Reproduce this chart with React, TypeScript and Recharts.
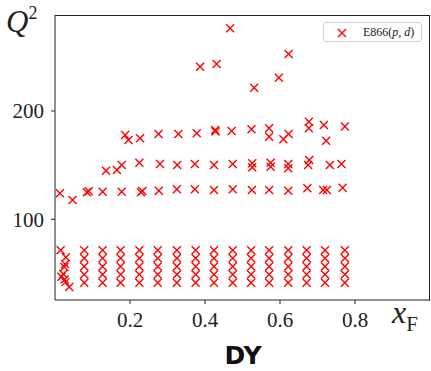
import { ScatterChart, Scatter, XAxis, YAxis } from 'recharts'

const xTicks = [0.2, 0.4, 0.6, 0.8]
const yTicks = [100, 200]

// xF bins of the regular low-mass block, and the Q² rows it sits on
const xBins = [0.078, 0.127, 0.175, 0.225, 0.274, 0.325, 0.375, 0.424, 0.474, 0.523, 0.571, 0.622, 0.671, 0.72, 0.773]
const lowRows = [71.5, 64, 56.5, 49, 41.5]

// first bin is messy, read point by point
const firstBin = [
  { x: 0.015, q2: 71.5 }, { x: 0.029, q2: 65 }, { x: 0.027, q2: 58.5 }, { x: 0.025, q2: 56 },
  { x: 0.022, q2: 49.5 }, { x: 0.017, q2: 47 }, { x: 0.026, q2: 44.5 }, { x: 0.028, q2: 42 },
  { x: 0.038, q2: 37.5 },
]

const band125 = [
  { x: 0.013, q2: 124.0 }, { x: 0.047, q2: 117.8 }, { x: 0.085, q2: 124.9 }, { x: 0.09, q2: 125.8 },
  { x: 0.127, q2: 125.5 }, { x: 0.178, q2: 125.5 }, { x: 0.229, q2: 124.9 }, { x: 0.233, q2: 126.2 },
  { x: 0.277, q2: 126.4 }, { x: 0.325, q2: 127.7 }, { x: 0.373, q2: 127.7 }, { x: 0.424, q2: 127.1 },
  { x: 0.474, q2: 127.7 }, { x: 0.525, q2: 127.1 }, { x: 0.571, q2: 127.1 }, { x: 0.622, q2: 126.4 },
  { x: 0.673, q2: 128.6 }, { x: 0.715, q2: 127.1 }, { x: 0.725, q2: 127.1 }, { x: 0.767, q2: 129.2 },
]

const band150 = [
  { x: 0.136, q2: 144.9 }, { x: 0.165, q2: 145.5 }, { x: 0.178, q2: 150.1 }, { x: 0.225, q2: 152.3 },
  { x: 0.28, q2: 151.1 }, { x: 0.326, q2: 150.1 }, { x: 0.373, q2: 151.1 }, { x: 0.424, q2: 150.1 },
  { x: 0.474, q2: 151.1 }, { x: 0.526, q2: 151.7 }, { x: 0.526, q2: 148.0 }, { x: 0.575, q2: 152.3 },
  { x: 0.575, q2: 148.6 }, { x: 0.622, q2: 151.1 }, { x: 0.622, q2: 147.1 }, { x: 0.678, q2: 154.8 },
  { x: 0.675, q2: 150.1 }, { x: 0.733, q2: 150.1 }, { x: 0.764, q2: 151.1 },
]

const band180 = [
  { x: 0.187, q2: 177.8 }, { x: 0.196, q2: 173.2 }, { x: 0.227, q2: 174.8 }, { x: 0.276, q2: 178.8 },
  { x: 0.329, q2: 178.8 }, { x: 0.378, q2: 179.4 }, { x: 0.427, q2: 182.5 }, { x: 0.428, q2: 181.0 },
  { x: 0.471, q2: 181.5 }, { x: 0.524, q2: 183.1 }, { x: 0.571, q2: 184.0 }, { x: 0.571, q2: 176.3 },
  { x: 0.609, q2: 173.9 }, { x: 0.623, q2: 178.8 }, { x: 0.677, q2: 190.1 }, { x: 0.677, q2: 184.0 },
  { x: 0.717, q2: 187.1 }, { x: 0.723, q2: 172.6 }, { x: 0.773, q2: 185.6 },
]

const highMass = [
  { x: 0.387, q2: 240.9 }, { x: 0.431, q2: 243.4 }, { x: 0.467, q2: 276.4 },
  { x: 0.531, q2: 221.5 }, { x: 0.597, q2: 230.7 }, { x: 0.623, q2: 252.6 },
]

const lowBlock = xBins.flatMap((x) => lowRows.map((q2) => ({ x, q2 })))
const allPoints = [...firstBin, ...lowBlock, ...band125, ...band150, ...band180, ...highMass]

const Cross = (props: any) => {
  const { cx, cy } = props
  if (cx == null || cy == null) return null
  const r = 4
  return (
    <path d={`M${cx - r},${cy - r}L${cx + r},${cy + r}M${cx - r},${cy + r}L${cx + r},${cy - r}`}
      stroke="#ff0000" strokeWidth={1.4} fill="none" />
  )
}

const serif = '"Liberation Serif", "DejaVu Serif", serif'
const tickStyle = { fontSize: 21, fill: '#222', fontFamily: serif }

export default function App() {
  return (
    <div style={{ position: 'absolute', left: 0, top: 0, width: 431, height: 371, background: '#fff' }}>
      <ScatterChart width={431} height={371} margin={{ top: 15, right: 1, bottom: 31, left: 0 }}>
        <XAxis type="number" dataKey="x" domain={[0, 1]} ticks={xTicks} tick={tickStyle}
          tickFormatter={(v: number) => v.toFixed(1)} height={40} tickSize={4} tickMargin={8}
          axisLine={{ stroke: '#222' }} tickLine={{ stroke: '#222' }} />
        <YAxis type="number" dataKey="q2" domain={[25.5, 288.6]} ticks={yTicks} tick={tickStyle}
          width={55} tickSize={4} tickMargin={7}
          axisLine={{ stroke: '#222' }} tickLine={{ stroke: '#222' }} />
        <Scatter data={allPoints} shape={Cross} isAnimationActive={false} />
      </ScatterChart>

      {/* frame top/right */}
      <div style={{ position: 'absolute', left: 55, top: 15, width: 374, height: 285, borderTop: '1px solid #222', borderRight: '1px solid #222', pointerEvents: 'none' }} />

      {/* legend */}
      <div style={{ position: 'absolute', left: 323, top: 22, width: 99, height: 20, border: '1px solid #d0d0d0', borderRadius: 3, background: '#fff', boxSizing: 'border-box' }}>
        <svg width={20} height={18} style={{ position: 'absolute', left: 8, top: 1 }}>
          <path d="M6,5L14,13M6,13L14,5" stroke="#ff0000" strokeWidth={1.4} fill="none" />
        </svg>
        <span style={{ position: 'absolute', left: 39, top: 2, fontFamily: serif, fontSize: 12, color: '#222', whiteSpace: 'nowrap' }}>
          E866(<i>p</i>, <i>d</i>)
        </span>
      </div>

      {/* axis titles */}
      <div style={{ position: 'absolute', left: 6, top: 6, fontFamily: serif, fontSize: 31, lineHeight: 1, color: '#222', whiteSpace: 'nowrap' }}>
        <i>Q</i><sup style={{ fontSize: 18, verticalAlign: 'top', position: 'relative', top: -2 }}>2</sup>
      </div>
      <div style={{ position: 'absolute', left: 392, top: 296, fontFamily: serif, fontSize: 32, lineHeight: 1, color: '#222', whiteSpace: 'nowrap' }}>
        <i>x</i><span style={{ fontSize: 21, position: 'relative', top: 8 }}>F</span>
      </div>
      <div style={{ position: 'absolute', left: 0, width: 486, textAlign: 'center', top: 343, fontFamily: '"DejaVu Sans", sans-serif', fontWeight: 'bold', fontSize: 25, lineHeight: 1, color: '#111' }}>
        DY
      </div>
    </div>
  )
}
